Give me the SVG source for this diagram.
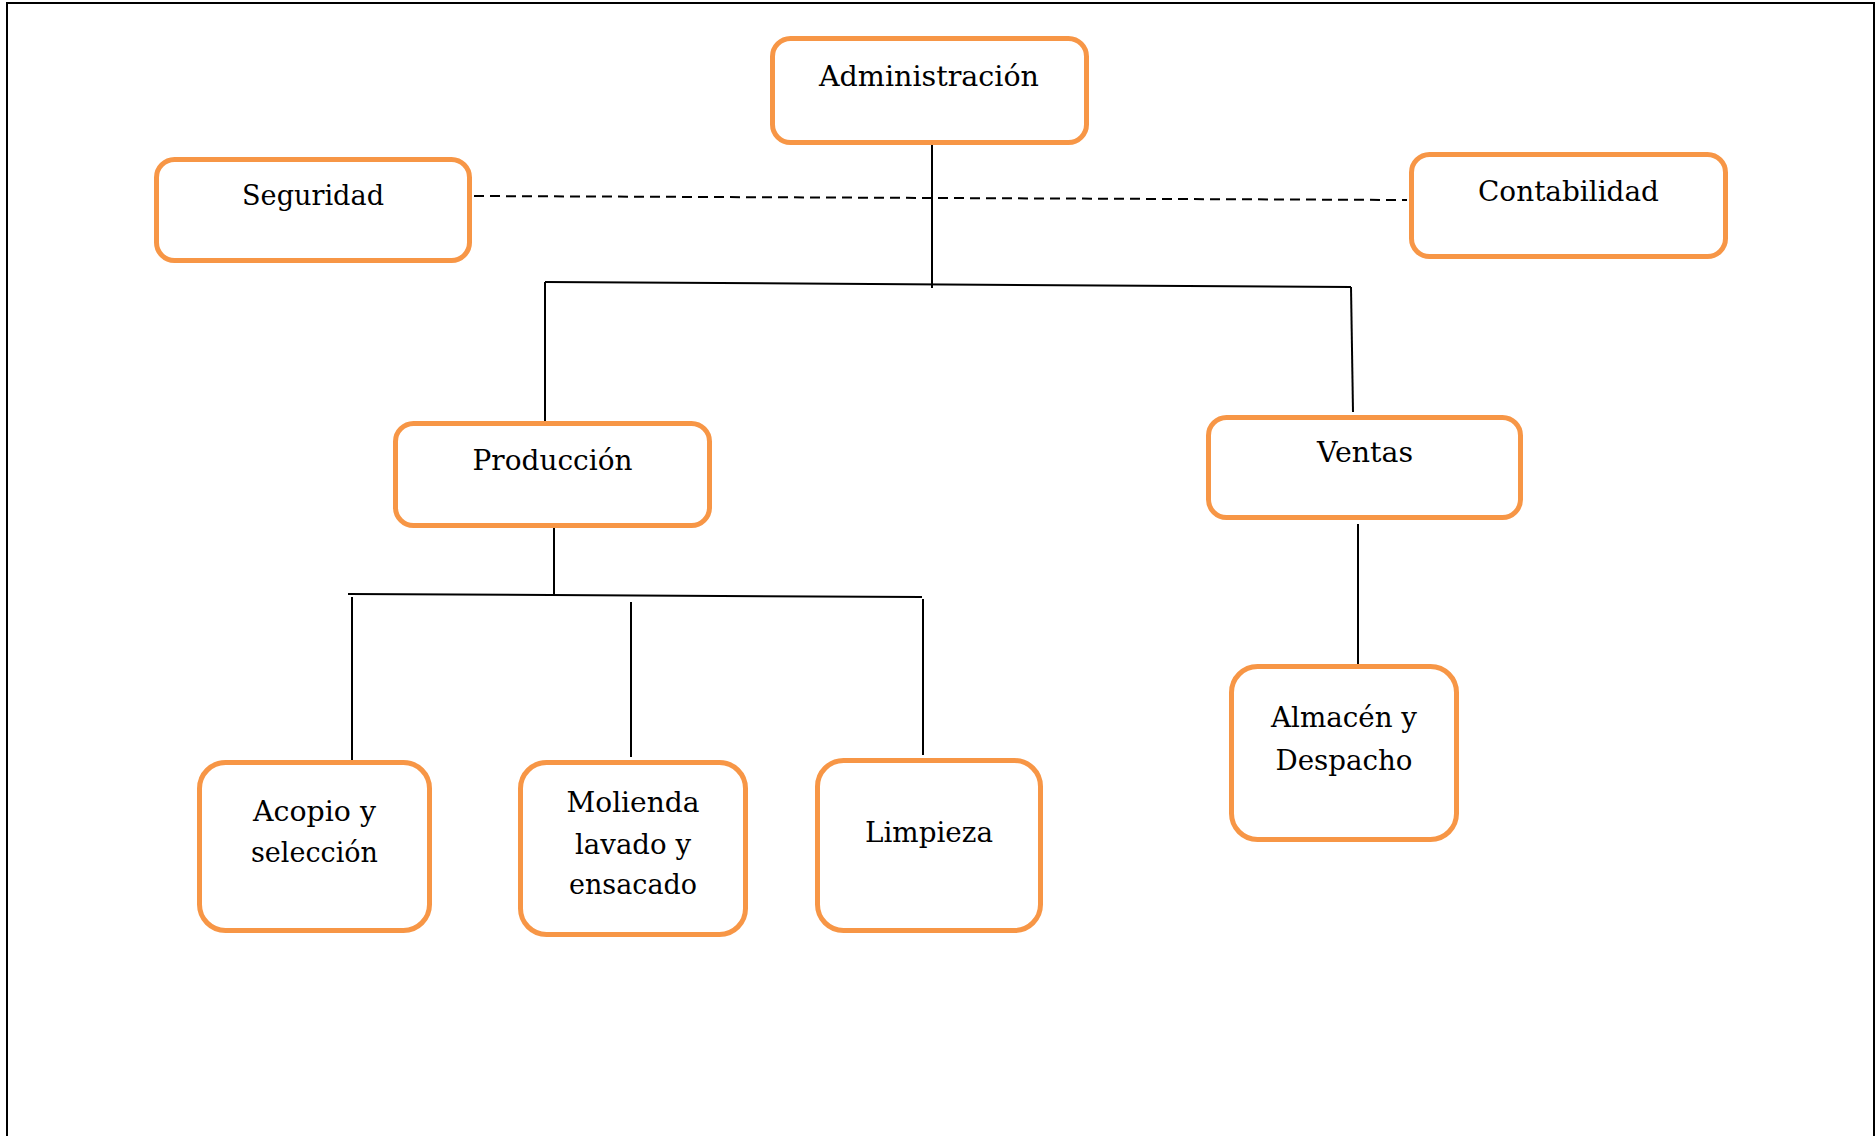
<svg xmlns="http://www.w3.org/2000/svg" width="1876" height="1136" viewBox="0 0 1876 1136">
<style>
.box{fill:#fff;stroke:#F79646;stroke-width:5}
.t{font-family:"DejaVu Serif","Liberation Serif",serif;font-size:28.5px;fill:#000;text-anchor:middle}
.ln{stroke:#000;stroke-width:2;fill:none}
.dash{stroke:#000;stroke-width:2;fill:none;stroke-dasharray:10 6}
</style>
<rect x="0" y="0" width="1876" height="1136" fill="#fff"/>
<path d="M7,1136 V3 H1874 V1136" fill="none" stroke="#000" stroke-width="2"/>
<g id="connectors">
<line class="dash" x1="474" y1="196" x2="1407" y2="200"/>
<line class="ln" x1="932" y1="145" x2="932" y2="288"/>
<line class="ln" x1="545" y1="282" x2="1351" y2="287"/>
<line class="ln" x1="545" y1="282" x2="545" y2="423"/>
<line class="ln" x1="1351" y1="287" x2="1353" y2="412"/>
<line class="ln" x1="554" y1="528" x2="554" y2="596"/>
<line class="ln" x1="348" y1="594" x2="922" y2="597"/>
<line class="ln" x1="352" y1="597" x2="352" y2="763"/>
<line class="ln" x1="631" y1="602" x2="631" y2="757"/>
<line class="ln" x1="923" y1="599" x2="923" y2="755"/>
<line class="ln" x1="1358" y1="524" x2="1358" y2="668"/>
</g>
<g id="administracion">
<rect class="box" x="772.5" y="38.5" width="314" height="104" rx="18"/>
<text class="t" x="929" y="86" textLength="220" lengthAdjust="spacingAndGlyphs">Administración</text>
</g>
<g id="seguridad">
<rect class="box" x="156.5" y="159.5" width="313" height="101" rx="18"/>
<text class="t" x="313" y="205" textLength="142" lengthAdjust="spacingAndGlyphs">Seguridad</text>
</g>
<g id="contabilidad">
<rect class="box" x="1411.5" y="154.5" width="314" height="102" rx="18"/>
<text class="t" x="1568.5" y="201" textLength="181" lengthAdjust="spacingAndGlyphs">Contabilidad</text>
</g>
<g id="produccion">
<rect class="box" x="395.5" y="423.5" width="314" height="102" rx="18"/>
<text class="t" x="552.5" y="470" textLength="160" lengthAdjust="spacingAndGlyphs">Producción</text>
</g>
<g id="ventas">
<rect class="box" x="1208.5" y="417.5" width="312" height="100" rx="18"/>
<text class="t" x="1365" y="462" textLength="96" lengthAdjust="spacingAndGlyphs">Ventas</text>
</g>
<g id="acopio">
<rect class="box" x="199.5" y="762.5" width="230" height="168" rx="26"/>
<text class="t" x="314.5" y="821" textLength="123" lengthAdjust="spacingAndGlyphs">Acopio y</text>
<text class="t" x="314.5" y="862" textLength="127" lengthAdjust="spacingAndGlyphs">selección</text>
</g>
<g id="molienda">
<rect class="box" x="520.5" y="762.5" width="225" height="172" rx="26"/>
<text class="t" x="633" y="812" textLength="133" lengthAdjust="spacingAndGlyphs">Molienda</text>
<text class="t" x="633" y="854" textLength="116" lengthAdjust="spacingAndGlyphs">lavado y</text>
<text class="t" x="633" y="894" textLength="128" lengthAdjust="spacingAndGlyphs">ensacado</text>
</g>
<g id="limpieza">
<rect class="box" x="817.5" y="760.5" width="223" height="170" rx="26"/>
<text class="t" x="929" y="842" textLength="128" lengthAdjust="spacingAndGlyphs">Limpieza</text>
</g>
<g id="almacen">
<rect class="box" x="1231.5" y="666.5" width="225" height="173" rx="26"/>
<text class="t" x="1344" y="727" textLength="146" lengthAdjust="spacingAndGlyphs">Almacén y</text>
<text class="t" x="1344" y="770" textLength="137" lengthAdjust="spacingAndGlyphs">Despacho</text>
</g>
</svg>
